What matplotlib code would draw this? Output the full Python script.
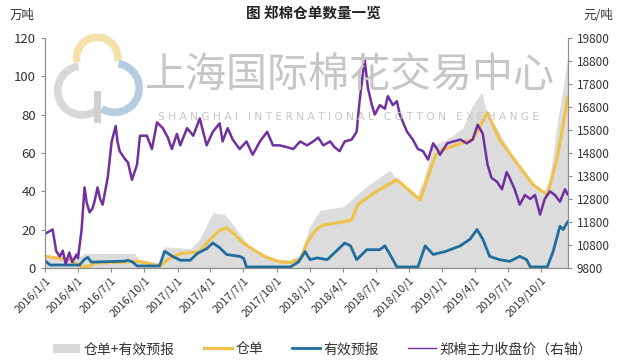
import numpy as np
import pandas as pd
import matplotlib
matplotlib.use("Agg")
import matplotlib.pyplot as plt
from matplotlib.patches import Patch, Arc
from matplotlib.lines import Line2D

plt.rcParams['font.family'] = ['Noto Sans CJK SC', 'DejaVu Sans']
plt.rcParams['axes.unicode_minus'] = False

# 仓单+有效预报 (万吨)
total_dates = ["2016-01-01", "2016-04-05", "2016-04-19", "2016-09-05", "2016-09-19", "2016-11-12",
               "2016-11-26", "2017-02-05", "2017-03-03", "2017-04-08", "2017-05-10", "2017-06-05",
               "2017-07-03", "2017-07-31", "2017-09-10", "2017-11-08", "2017-12-05", "2018-01-01",
               "2018-01-29", "2018-04-03", "2018-06-07", "2018-08-10", "2018-09-06", "2018-10-23",
               "2018-11-09", "2018-12-07", "2019-01-22", "2019-02-27", "2019-03-26", "2019-04-20",
               "2019-05-06", "2019-06-01", "2019-07-16", "2019-09-01", "2019-10-06", "2019-10-25",
               "2019-11-14", "2019-12-01", "2019-12-13"]
total_vals = [6.5, 6, 7.5, 7.5, 3, 3, 11, 10, 15, 28.7, 28, 22, 15, 8, 5, 4, 7, 22,
              30, 32, 42.6, 51, 43.5, 38, 45, 64, 68, 73, 85, 91.5, 80, 73, 57.6, 47, 38, 47,
              75, 94, 110]

# 仓单 (万吨)
cd_dates = ["2016-01-01", "2016-02-11", "2016-03-08", "2016-03-28", "2016-04-11", "2016-05-03",
            "2016-05-17", "2016-08-01", "2016-09-15", "2016-10-20", "2016-11-12", "2016-12-10",
            "2017-01-10", "2017-02-05", "2017-03-03", "2017-03-22", "2017-04-27", "2017-05-16",
            "2017-06-02", "2017-07-01", "2017-08-10", "2017-09-05", "2017-10-10", "2017-11-08",
            "2017-12-05", "2017-12-24", "2018-01-10", "2018-01-25", "2018-02-07", "2018-04-03",
            "2018-04-26", "2018-05-13", "2018-07-04", "2018-08-29", "2018-11-01", "2018-12-14",
            "2019-01-06", "2019-03-26", "2019-05-06", "2019-06-08", "2019-09-08", "2019-10-18",
            "2019-11-14", "2019-12-01", "2019-12-13"]
cd_vals = [6, 5, 4.5, 2, 0.5, 1, 2.5, 3, 3.5, 2, 0.8, 5, 7.5, 8, 8.5, 13, 19.6, 20.9,
           18.3, 13, 8, 5.4, 3.1, 2.8, 4.5, 13, 18, 21, 22.4, 24, 25, 33, 40, 46, 35.5, 59,
           62, 67, 81, 67, 43.5, 38, 57, 75, 89]

# 有效预报 (万吨)
yb_dates = ["2016-01-01", "2016-01-15", "2016-04-05", "2016-04-19", "2016-04-28", "2016-05-08",
            "2016-08-08", "2016-08-17", "2016-08-30", "2016-09-11", "2016-11-12", "2016-11-26",
            "2016-12-18", "2017-01-08", "2017-02-05", "2017-02-24", "2017-03-22", "2017-04-08",
            "2017-04-27", "2017-05-16", "2017-06-21", "2017-07-02", "2017-07-10", "2017-11-08",
            "2017-11-30", "2017-12-19", "2018-01-01", "2018-01-21", "2018-02-18", "2018-04-07",
            "2018-04-23", "2018-05-10", "2018-06-07", "2018-07-13", "2018-07-27", "2018-08-10",
            "2018-08-29", "2018-10-26", "2018-11-15", "2018-12-07", "2019-01-09", "2019-02-20",
            "2019-03-19", "2019-04-07", "2019-04-23", "2019-05-12", "2019-06-08", "2019-07-06",
            "2019-08-03", "2019-08-22", "2019-09-01", "2019-10-18", "2019-11-03", "2019-11-22",
            "2019-12-01", "2019-12-13"]
yb_vals = [3.8, 1.5, 1.5, 4.5, 5.5, 3, 3.5, 4, 3, 1, 1, 8.7, 6, 4, 4, 7.5, 10, 13,
           10.5, 7, 6, 5, 0.5, 0.5, 3, 8.5, 4.3, 5.2, 4.3, 13, 11.5, 4.3, 9.5, 9.5, 11.5, 7,
           0.5, 0.5, 11.5, 7, 8.5, 11.5, 15, 20, 15, 6, 4.3, 3.4, 6, 4.3, 0.5, 0.5, 8.5, 21.7,
           20, 24]

# 郑棉主力收盘价 (元/吨, 右轴)
price_dates = ["2016-01-01", "2016-01-22", "2016-02-01", "2016-02-11", "2016-02-19", "2016-02-27",
               "2016-03-08", "2016-03-16", "2016-03-28", "2016-04-01", "2016-04-11", "2016-04-19",
               "2016-04-25", "2016-05-03", "2016-05-11", "2016-05-17", "2016-05-25", "2016-06-01",
               "2016-06-08", "2016-06-22", "2016-07-03", "2016-07-14", "2016-07-19", "2016-07-25",
               "2016-08-08", "2016-08-17", "2016-08-28", "2016-09-11", "2016-09-19", "2016-10-08",
               "2016-10-22", "2016-11-05", "2016-11-21", "2016-12-05", "2016-12-16", "2016-12-30",
               "2017-01-08", "2017-01-27", "2017-02-13", "2017-03-03", "2017-03-22", "2017-04-08",
               "2017-04-27", "2017-05-05", "2017-05-19", "2017-06-02", "2017-06-21", "2017-07-10",
               "2017-07-27", "2017-08-16", "2017-09-05", "2017-09-21", "2017-10-10", "2017-10-30",
               "2017-11-16", "2017-12-05", "2017-12-24", "2018-01-10", "2018-01-24", "2018-02-07",
               "2018-02-26", "2018-03-10", "2018-03-24", "2018-04-07", "2018-04-26", "2018-05-10",
               "2018-05-18", "2018-05-27", "2018-06-01", "2018-06-10", "2018-06-21", "2018-06-29",
               "2018-07-13", "2018-07-27", "2018-08-04", "2018-08-18", "2018-08-29", "2018-09-06",
               "2018-09-26", "2018-10-12", "2018-10-26", "2018-11-09", "2018-11-23", "2018-12-07",
               "2018-12-18", "2018-12-26", "2019-01-15", "2019-02-01", "2019-02-20", "2019-03-10",
               "2019-03-26", "2019-04-09", "2019-04-23", "2019-05-06", "2019-05-17", "2019-06-01",
               "2019-06-15", "2019-06-28", "2019-07-06", "2019-07-20", "2019-08-03", "2019-08-17",
               "2019-09-01", "2019-09-14", "2019-09-28", "2019-10-11", "2019-10-25", "2019-11-08",
               "2019-11-22", "2019-12-06", "2019-12-13"]
price_vals = [11280, 11470, 10520, 10300, 10550, 9970, 10470, 10050, 10380, 10220, 11470, 13300,
              12630, 12220, 12380, 12720, 13300, 12800, 12550, 13720, 15300, 15970, 15300, 14880,
              14550, 14380, 13630, 14300, 15550, 15550, 14970, 16130, 15880, 15470, 14970, 15630,
              15130, 15880, 15550, 16300, 15130, 15720, 16090, 15300, 15880, 15380, 14970, 15300,
              14720, 15300, 15720, 15130, 15130, 15050, 14970, 15300, 15130, 15300, 15470, 15130,
              15300, 15050, 14880, 15300, 15380, 15720, 17050, 18220, 18870, 17630, 16880, 16470,
              16880, 16720, 17270, 16880, 17050, 16470, 15720, 15380, 14970, 14880, 14510, 15220,
              14970, 14720, 15220, 15300, 15380, 15220, 15380, 16030, 15630, 14300, 13720, 13550,
              13220, 13970, 13720, 13220, 12550, 12970, 12800, 12970, 12120, 12800, 13130, 12970,
              12680, 13220, 13000]

quarter_ticks = pd.date_range("2016-01-01", "2019-10-01", freq="QS")
tick_labels = [f"{d.year}/{d.month}/{d.day}" for d in quarter_ticks]

fig = plt.figure(figsize=(6.27, 3.62), dpi=100)
ax = fig.add_axes([0.0718, 0.26, 0.834, 0.635])
ax2 = ax.twinx()
ax.set_zorder(ax2.get_zorder() - 1)
ax2.patch.set_visible(False)

# watermark
fig.text(0.558, 0.793, "上海国际棉花交易中心", fontsize=29.5, color="#c6c6c6",
         ha="center", va="center", zorder=0)
fig.text(0.556, 0.677, "S H A N G H A I   I N T E R N A T I O N A L   C O T T O N   E X C H A N G E",
         fontsize=7.7, color="#c6c6c6", ha="center", va="center", family="DejaVu Sans", zorder=0)
logo = [((0.155, 0.84), 0.066, 0.114, -15, 200, "#f3dc9a"),
        ((0.131, 0.75), 0.078, 0.135, 95, 290, "#d2d2d2"),
        ((0.183, 0.757), 0.078, 0.135, 250, 85, "#a9c3dc")]
for (c, w, h, t1, t2, col) in logo:
    fig.add_artist(Arc(c, w, h, theta1=t1, theta2=t2, color=col, lw=5.5,
                       transform=fig.transFigure, alpha=0.85))
fig.add_artist(Line2D([0.155, 0.155], [0.67, 0.74], color="#cfcfcf", lw=5,
                      transform=fig.transFigure))

td = pd.to_datetime(total_dates)
ax.fill_between(td, total_vals, 0, color="#d9d9d9", lw=0, alpha=0.9)
ax.plot(pd.to_datetime(cd_dates), cd_vals, color="#efc24c", lw=2.3)
ax.plot(pd.to_datetime(yb_dates), yb_vals, color="#1f6e9e", lw=2.0)
ax2.plot(pd.to_datetime(price_dates), price_vals, color="#7030a0", lw=1.8)

ax.set_xlim(pd.Timestamp("2016-01-01"), pd.Timestamp("2019-12-14"))
ax.set_ylim(0, 120)
ax2.set_ylim(9800, 19800)
ax.set_yticks(np.arange(0, 121, 20))
ax2.set_yticks(np.arange(9800, 19801, 1000))
ax.set_xticks(quarter_ticks)
ax.set_xticklabels(tick_labels, rotation=45, ha="right", rotation_mode="anchor")

for a in (ax, ax2):
    for s in a.spines.values():
        s.set_color("#8c8c8c")
    a.spines["top"].set_visible(False)
    a.tick_params(colors="#8c8c8c", labelcolor="#333333", labelsize=8.5, length=3)
ax.tick_params(axis="y", labelsize=9.5)
ax.tick_params(axis="x", labelsize=8, pad=2)

fig.text(0.5, 0.964, "图 郑棉仓单数量一览", ha="center", va="center", fontsize=10.5,
         fontweight="bold", color="#222222")
fig.text(0.035, 0.957, "万吨", ha="center", va="center", fontsize=9, color="#333333")
fig.text(0.954, 0.957, "元/吨", ha="center", va="center", fontsize=9, color="#333333")

handles = [Patch(facecolor="#d9d9d9", edgecolor="none"),
           Line2D([], [], color="#efc24c", lw=2.3),
           Line2D([], [], color="#1f6e9e", lw=2.0),
           Line2D([], [], color="#7030a0", lw=1.0)]
labels = ["仓单+有效预报", "仓单", "有效预报", "郑棉主力收盘价（右轴）"]
fig.legend(handles, labels, loc="center", bbox_to_anchor=(0.514, 0.035), ncol=4,
           frameon=False, fontsize=10, handlelength=2.0, columnspacing=2.1,
           handletextpad=0.25, labelcolor="#333333")

fig.savefig("out.png", dpi=100)
